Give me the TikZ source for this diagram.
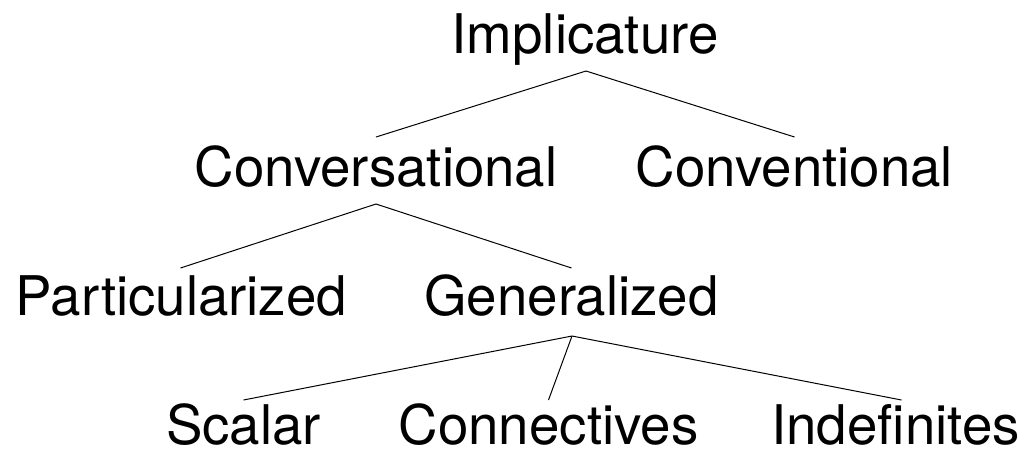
\documentclass[tikz,border=0pt]{standalone}
\usepackage{fontspec}
\setmainfont{TeX Gyre Heros}
\usetikzlibrary{calc}
\begin{document}
\begin{tikzpicture}[x=0.75pt,y=-0.75pt,
  lbl/.style={anchor=base,inner sep=0pt,font=\fontsize{41}{48}\selectfont},
  edge/.style={draw=black,line width=0.75pt}]
\useasboundingbox (0,0) rectangle (1030,451);
\node[lbl] (imp)  at (585,53)   {Implicature};
\node[lbl] (conv) at (376,186)  {Conversational};
\node[lbl] (cnvt) at (794.5,186) {Conventional};
\node[lbl] (part) at (181.5,315) {Particularized};
\node[lbl] (gen)  at (571.5,315) {Generalized};
\node[lbl] (scal) at (243.5,444) {Scalar};
\node[lbl] (conn) at (548.5,444) {Connectives};
\node[lbl] (indf) at (895.5,444) {Indefinites};
\draw[edge] ($(imp.base)+(1,18)$) -- ($(conv.base)+(0,-49)$);
\draw[edge] ($(imp.base)+(1,18)$) -- ($(cnvt.base)+(0,-49)$);
\draw[edge] ($(conv.base)+(0,18)$) -- ($(part.base)+(-1,-47)$);
\draw[edge] ($(conv.base)+(0,18)$) -- ($(gen.base)+(0,-47)$);
\draw[edge] ($(gen.base)+(0.5,21)$) -- ($(scal.base)+(0,-44)$);
\draw[edge] ($(gen.base)+(0.5,21)$) -- ($(conn.base)+(0,-44)$);
\draw[edge] ($(gen.base)+(0.5,21)$) -- ($(indf.base)+(6,-44)$);
\end{tikzpicture}
\end{document}
